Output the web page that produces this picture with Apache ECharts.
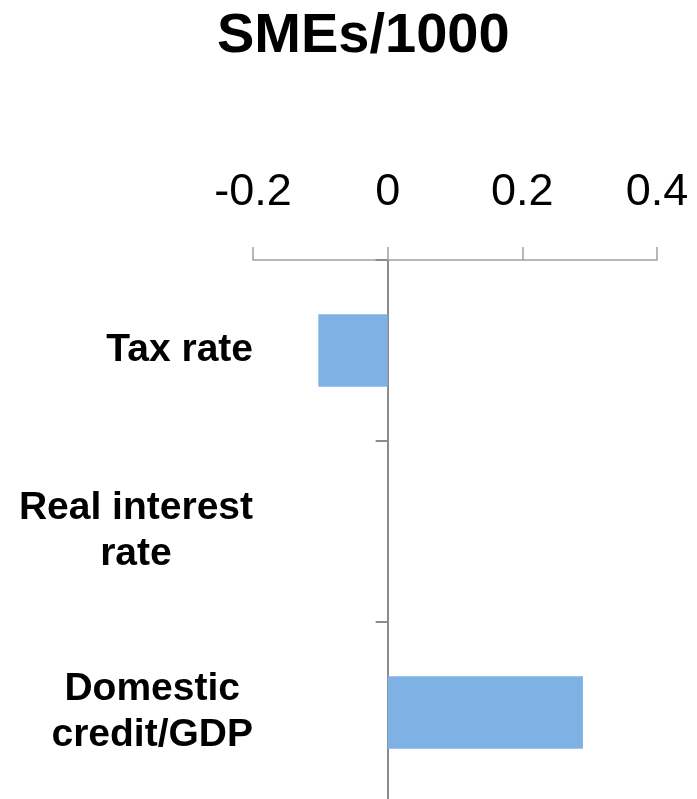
<!DOCTYPE html>
<html>
<head>
<meta charset="utf-8">
<script src="https://cdn.jsdelivr.net/npm/echarts@6/dist/echarts.min.js"></script>
<style>html,body{margin:0;padding:0;background:#fff}#c{width:697px;height:799px}</style>
</head>
<body>
<div id="c"></div>
<script>
var titleText = 'SMEs/1000';
var categories = ['Tax rate', 'Real interest\nrate', 'Domestic\ncredit/GDP'];
var values = [-0.103, 0, 0.29];
var tickMin = -0.2, tickMax = 0.4, tickStep = 0.2;

var chart = echarts.init(document.getElementById('c'));
var FONT = '"Liberation Sans", Arial, sans-serif';
chart.setOption({
  animation: false,
  backgroundColor: '#fff',
  title: {
    text: titleText,
    left: 212, top: 4,
    textStyle: {fontFamily: FONT, fontSize: 56, fontWeight: 'bold', color: '#000'}
  },
  grid: {left: 253, right: 40, top: 260, height: 543, containLabel: false, outerBoundsMode: 'none'},
  xAxis: {
    type: 'value', position: 'top',
    min: tickMin, max: tickMax, interval: tickStep,
    axisLine: {show: true, lineStyle: {color: '#a0a0a0', width: 1.5}},
    axisTick: {show: true, length: 13, lineStyle: {color: '#a0a0a0', width: 1.5}},
    splitLine: {show: false},
    axisLabel: {fontFamily: FONT, fontSize: 45, color: '#000', margin: 45,
      formatter: function (v) { return String(Math.round(v * 10) / 10); }}
  },
  yAxis: [{
    type: 'category', data: categories, inverse: true,
    axisLine: {show: true, onZero: true, lineStyle: {color: '#8c8c8c', width: 2}},
    axisTick: {show: true, length: 12, lineStyle: {color: '#8c8c8c', width: 2}},
    axisLabel: {show: false},
    splitLine: {show: false}
  }, {
    type: 'category', data: categories, inverse: true, position: 'left',
    axisLine: {show: false, onZero: false}, axisTick: {show: false},
    splitLine: {show: false},
    axisLabel: {
      margin: 0, align: 'right',
      formatter: function (v) {
        return v.split('\n').map(function (s) { return '{c|' + s + '}'; }).join('\n');
      },
      rich: {c: {align: 'center', fontFamily: FONT, fontSize: 39, fontWeight: 'bold', color: '#000', lineHeight: 46}}
    }
  }],
  series: [{
    type: 'bar', data: values, yAxisIndex: 0, barWidth: '40%',
    itemStyle: {color: '#7fb2e4'}
  }]
});
</script>
</body>
</html>
